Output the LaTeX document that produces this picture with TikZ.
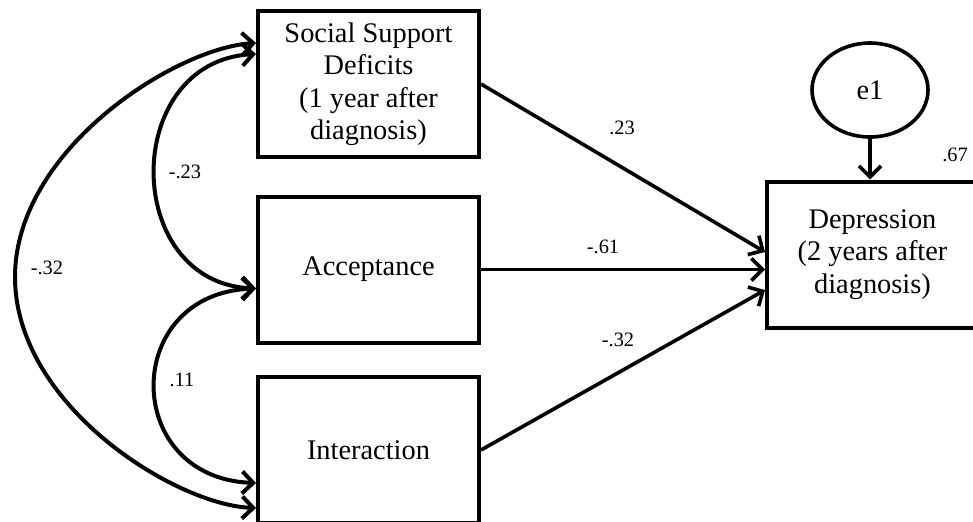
\documentclass[tikz,border=0pt]{standalone}
\usepackage{fontspec}
\setmainfont{Liberation Serif}
\usetikzlibrary{arrows.meta,calc,shapes.geometric}
\begin{document}
\begin{tikzpicture}[x=0.5pt,y=-0.5pt,
  box/.style={draw,line width=2pt,minimum width=110.5pt,minimum height=73pt,align=center,inner sep=0pt,font=\fontsize{14.2}{16.25}\selectfont},
  lat/.style={ellipse,draw,line width=1.8pt,minimum width=58pt,minimum height=47pt,inner sep=0pt,font=\fontsize{14.2}{16.25}\selectfont},
  barb/.tip={Straight Barb[length=5.5pt,width=11pt]},
  conn/.style={line width=1.8pt,-barb},
  cov/.style={line width=2pt,barb-barb},
  lbl/.style={font=\fontsize{10.2}{12}\selectfont,inner sep=0pt}]
\useasboundingbox (0,0) rectangle (973,521);
\clip (0,0) rectangle (973,521);
% boxes
\node[box] (soc) at (368.5,84) {Social Support\\Deficits\\(1 year after\\diagnosis)};
\node[box] (acc) at (368.5,269.5) {Acceptance};
\node[box] (int) at (368.5,450) {Interaction};
\node[box,minimum width=105.5pt] (dep) at (872.5,254.5) {Depression\\(2 years after\\diagnosis)};
\node[lat] (e1) at (870,90) {e1};
% attachment points
\coordinate (socO) at ($(soc.north west)+(0,34)$);
\coordinate (socI) at ($(soc.north west)+(0,45)$);
\coordinate (accI) at ($(acc.west)+(0,19)$);
\coordinate (intI) at ($(int.west)+(0,33)$);
\coordinate (intO) at ($(int.west)+(0,58)$);
\coordinate (lp) at (15,277);
\coordinate (d1) at ($(dep.west)+(0,-2.5)$);
\coordinate (d3) at ($(dep.west)+(0,35.5)$);
% regressions
\draw[conn] (soc.east) -- (d1);
\draw[conn] (acc.east) -- (acc.east -| dep.west);
\draw[conn] (int.east) -- (d3);
\draw[conn] (e1.south) -- (e1.south |- dep.north);
% covariances
\draw[cov] (socI) .. controls (121,61) and (121,283) .. (accI);
\draw[cov] (accI) .. controls (121,293) and (121,478) .. (intI);
\draw[cov] (socO) .. controls (175,48) and (15,150) .. (lp) .. controls (15,405) and (175,505) .. (intO);
% labels
\node[lbl] (l1) at (622,128) {.23};
\node[lbl] (l2) at (603,247) {-.61};
\node[lbl] (l3) at (618,340) {-.32};
\node[lbl] (l4) at (955,155) {.67};
\node[lbl] (l5) at (185,172) {-.23};
\node[lbl] (l6) at (182,380) {.11};
\node[lbl] (l7) at (47,268) {-.32};
\end{tikzpicture}
\end{document}
